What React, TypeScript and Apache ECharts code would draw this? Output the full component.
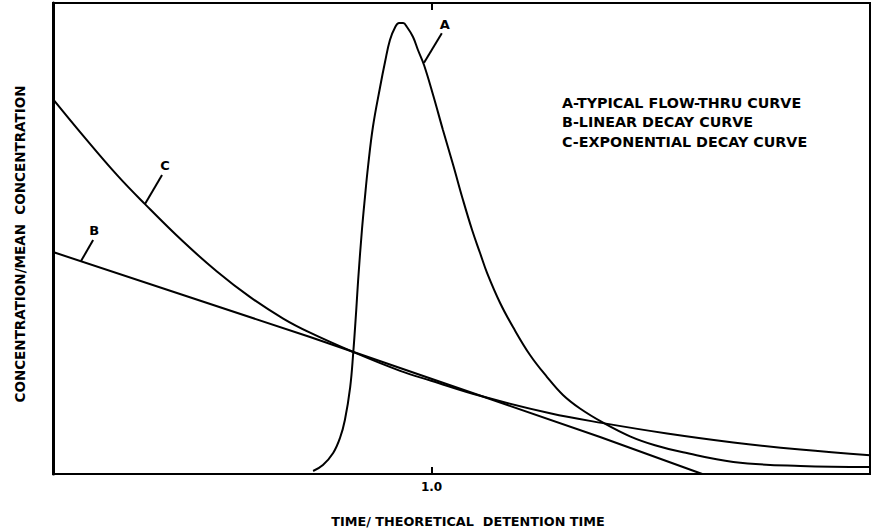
import React, { useEffect, useRef } from 'react';
import * as echarts from 'echarts';

// x: time / theoretical detention time, y: relative concentration (0-100 of plot height)
const xTicks = [1.0];

const curveA: number[][] = [
  [0.687, 0.64], [0.713, 1.91], [0.740, 4.46], [0.758, 7.64], [0.771, 11.46],
  [0.785, 18.47], [0.793, 25.69], [0.801, 34.82], [0.806, 41.19], [0.816, 51.8],
  [0.824, 58.8], [0.832, 65.18], [0.845, 73.67], [0.864, 82.17], [0.877, 87.47],
  [0.890, 92.14], [0.904, 94.9], [0.914, 95.75], [0.925, 95.75], [0.935, 94.9],
  [0.951, 92.78], [0.964, 90.02], [0.980, 86.84], [1.004, 80.47], [1.030, 73.04],
  [1.057, 65.61], [1.083, 58.17], [1.107, 51.8], [1.128, 46.92], [1.147, 42.6],
  [1.181, 36.31], [1.215, 31.21], [1.260, 25.27], [1.305, 20.59], [1.347, 16.77],
  [1.392, 13.9], [1.453, 10.9], [1.524, 8.0], [1.590, 6.1], [1.664, 4.6],
  [1.797, 2.55], [1.974, 1.7], [2.158, 1.49],
];

const curveB: number[][] = [
  [0, 47.13], [0.679, 29.09], [1.445, 7.86], [1.715, 0],
];

const curveC: number[][] = [
  [0, 79.6], [0.08, 71.8], [0.17, 63.4], [0.243, 57.3], [0.343, 49.4],
  [0.433, 43.0], [0.52, 37.6], [0.608, 33.0], [0.679, 30.0], [0.793, 25.9],
  [0.917, 21.9], [0.999, 19.8], [1.128, 16.6], [1.313, 12.9], [1.453, 10.8],
  [1.622, 8.6], [1.797, 6.7], [1.974, 5.2], [2.158, 4.0],
];

const leaderA: number[][] = [[0.980, 87.3], [1.027, 93.6]];
const leaderB: number[][] = [[0.074, 45.2], [0.106, 49.7]];
const leaderC: number[][] = [[0.243, 57.3], [0.288, 63.5]];

const curveNames = ['A', 'B', 'C'];
const legendLines = [
  'A-TYPICAL FLOW-THRU CURVE',
  'B-LINEAR DECAY CURVE',
  'C-EXPONENTIAL DECAY CURVE',
];
const xTitle = 'TIME/ THEORETICAL  DETENTION TIME';
const yTitle = 'CONCENTRATION/MEAN  CONCENTRATION';

const FONT = '"DejaVu Sans", "Liberation Sans", sans-serif';

function curveSeries(name: string, data: number[][], smooth: number | boolean) {
  return {
    name,
    type: 'line',
    data,
    showSymbol: false,
    symbol: 'none',
    smooth,
    lineStyle: { color: '#000', width: 2 },
    clip: true,
    z: 3,
  };
}

function leaderSeries(name: string, data: number[][], offset: number[]) {
  const pts: any[] = data.map((p, i) =>
    i === data.length - 1
      ? {
          value: p,
          label: {
            show: true,
            formatter: name,
            position: 'top',
            distance: 2,
            offset,
            color: '#000',
            fontSize: 13,
            fontWeight: 'bold',
            fontFamily: FONT,
          },
        }
      : { value: p }
  );
  return {
    name: 'leader' + name,
    type: 'line',
    data: pts,
    showSymbol: true,
    symbol: 'circle',
    symbolSize: 1,
    itemStyle: { color: 'rgba(0,0,0,0)' },
    lineStyle: { color: '#000', width: 2 },
    z: 3,
  };
}

export default function App() {
  const ref = useRef<HTMLDivElement>(null);
  useEffect(() => {
    if (!ref.current) return;
    const chart = echarts.init(ref.current, undefined, { renderer: 'svg' });
    const option: any = {
      animation: false,
      backgroundColor: '#fff',
      grid: {
        left: 53,
        right: 8,
        top: 3,
        bottom: 58,
        show: true,
        borderColor: '#000',
        borderWidth: 2,
        containLabel: false,
      },
      xAxis: [
        {
          type: 'value',
          min: 0,
          max: 2.158,
          position: 'bottom',
          axisLine: { show: false },
          splitLine: { show: false },
          axisTick: {
            show: true,
            customValues: xTicks,
            inside: true,
            length: 7,
            lineStyle: { color: '#000', width: 2 },
          },
          axisLabel: {
            show: true,
            customValues: xTicks,
            formatter: (v: number) => v.toFixed(1),
            color: '#000',
            fontSize: 12,
            fontWeight: 'bold',
            fontFamily: FONT,
            margin: 7,
          },
        },
        {
          type: 'value',
          min: 0,
          max: 2.158,
          position: 'top',
          axisLine: { show: false },
          splitLine: { show: false },
          axisTick: {
            show: true,
            customValues: xTicks,
            inside: true,
            length: 7,
            lineStyle: { color: '#000', width: 2 },
          },
          axisLabel: { show: false },
        },
      ],
      yAxis: {
        type: 'value',
        min: 0,
        max: 100,
        axisLine: { show: true, lineStyle: { color: '#000', width: 3 } },
        axisTick: { show: false },
        axisLabel: { show: false },
        splitLine: { show: false },
      },
      series: [
        curveSeries(curveNames[0], curveA, 0.4),
        curveSeries(curveNames[1], curveB, false),
        curveSeries(curveNames[2], curveC, 0.4),
        leaderSeries(curveNames[0], leaderA, [3, 0]),
        leaderSeries(curveNames[1], leaderB, [1, 0]),
        leaderSeries(curveNames[2], leaderC, [3, 0]),
      ],
      graphic: [
        ...legendLines.map((t, i) => ({
          type: 'text',
          left: 562,
          top: [96, 115, 135][i],
          style: {
            text: t,
            fill: '#000',
            font: `bold 14.3px ${FONT}`,
          },
        })),
        {
          type: 'text',
          x: 468,
          y: 521,
          style: {
            text: xTitle,
            fill: '#000',
            font: `bold 12.8px ${FONT}`,
            align: 'center',
            verticalAlign: 'middle',
          },
        },
        {
          type: 'text',
          x: 20,
          y: 244,
          rotation: Math.PI / 2,
          style: {
            text: yTitle,
            fill: '#000',
            font: `bold 13.5px ${FONT}`,
            align: 'center',
            verticalAlign: 'middle',
          },
        },
      ],
    };
    chart.setOption(option);
    return () => chart.dispose();
  }, []);
  return (
    <div
      ref={ref}
      style={{ position: 'fixed', left: 0, top: 0, width: 878, height: 532, background: '#fff' }}
    />
  );
}
